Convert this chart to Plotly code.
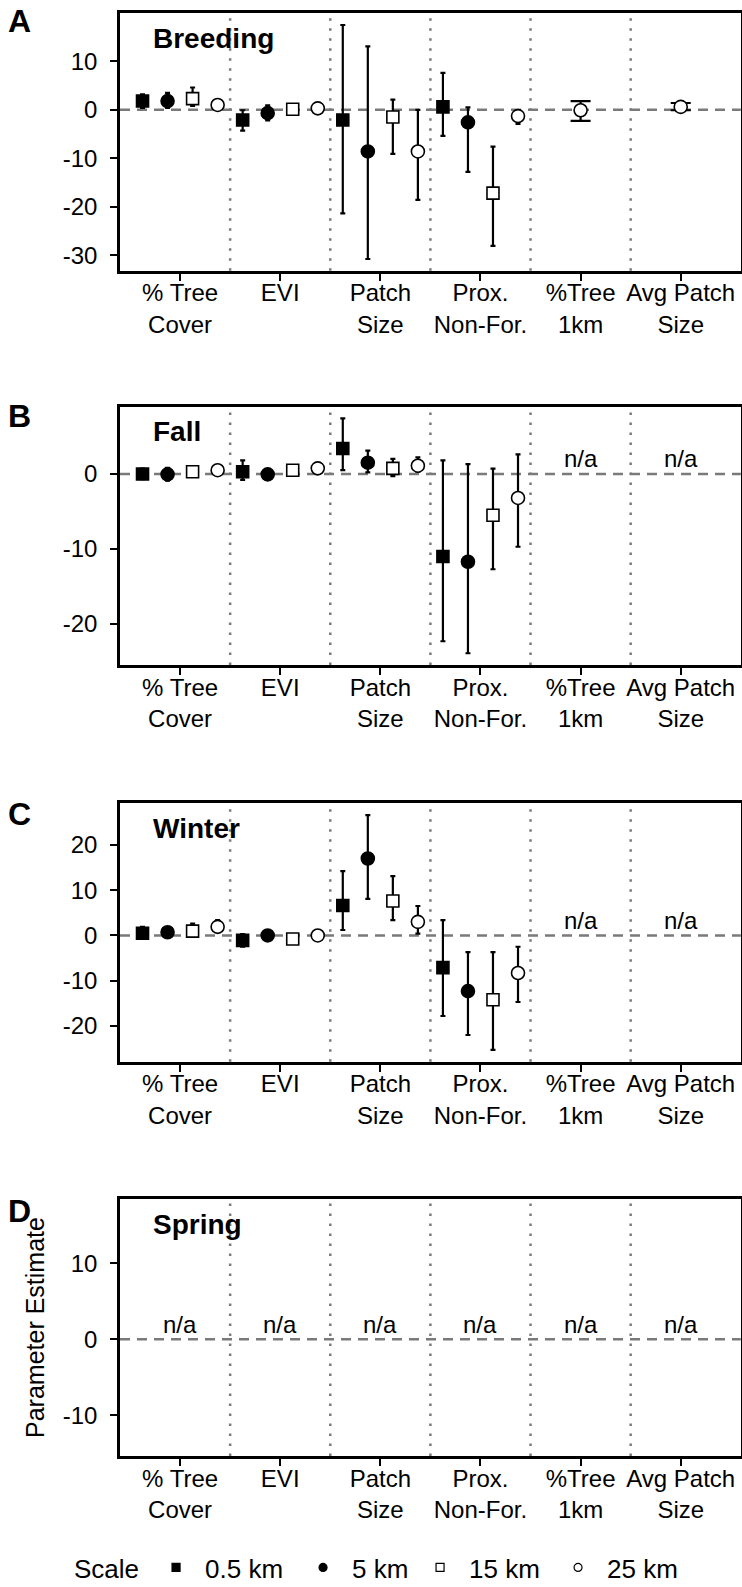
import plotly.graph_objects as go

W, H = 742, 1587
FONT = "Liberation Sans, Arial, Helvetica, sans-serif"

categories = ["% Tree<br>Cover", "EVI", "Patch<br>Size", "Prox.<br>Non-For.",
              "%Tree<br>1km", "Avg Patch<br>Size"]
scales = ["0.5 km", "5 km", "15 km", "25 km"]
seasons = ["Breeding", "Fall", "Winter", "Spring"]
panel_letters = ["A", "B", "C", "D"]

# Parameter estimates and interval bounds; rows follow `scales`, columns follow `categories`.
breeding_est = [
    [1.8, -2.1, -2.1, 0.6, None, None],
    [1.8, -0.7, -8.6, -2.6, None, None],
    [2.3, 0.1, -1.5, -17.2, None, None],
    [1.0, 0.3, -8.6, -1.3, -0.1, 0.6],
]
breeding_lo = [
    [0.4, -4.3, -21.4, -5.4, None, None],
    [0.4, -2.2, -30.8, -12.8, None, None],
    [0.8, -0.3, -9.1, -28.1, None, None],
    [0.3, -0.2, -18.6, -2.9, -2.3, -0.1],
]
breeding_hi = [
    [3.2, -0.1, 17.5, 7.6, None, None],
    [3.5, 0.9, 13.1, 0.5, None, None],
    [4.6, 0.5, 2.1, -7.6, None, None],
    [1.7, 0.8, 0.0, -0.2, 1.8, 1.4],
]

fall_est = [
    [0.0, 0.3, 3.4, -11.0, None, None],
    [-0.05, -0.05, 1.5, -11.7, None, None],
    [0.3, 0.5, 0.75, -5.5, None, None],
    [0.5, 0.75, 1.1, -3.2, None, None],
]
fall_lo = [
    [-0.7, -0.8, 0.5, -22.3, None, None],
    [-0.9, -0.7, 0.2, -23.9, None, None],
    [-0.3, 0.2, -0.3, -12.7, None, None],
    [-0.1, 0.4, 0.3, -9.7, None, None],
]
fall_hi = [
    [0.7, 1.8, 7.4, 1.8, None, None],
    [0.8, 0.4, 3.1, 1.3, None, None],
    [1.0, 0.8, 2.0, 0.7, None, None],
    [1.0, 1.1, 2.2, 2.6, None, None],
]

winter_est = [
    [0.5, -1.1, 6.6, -7.1, None, None],
    [0.7, 0.0, 17.0, -12.3, None, None],
    [0.95, -0.8, 7.6, -14.2, None, None],
    [1.9, 0.0, 3.0, -8.3, None, None],
]
winter_lo = [
    [-0.7, -2.5, 1.2, -17.8, None, None],
    [-0.15, -0.3, 8.1, -22.0, None, None],
    [-0.3, -1.1, 3.4, -25.3, None, None],
    [0.8, -0.3, 0.4, -14.7, None, None],
]
winter_hi = [
    [1.9, 0.3, 14.2, 3.4, None, None],
    [1.75, 0.3, 26.6, -3.7, None, None],
    [2.6, -0.5, 13.1, -3.7, None, None],
    [3.4, 0.3, 6.5, -2.5, None, None],
]

spring_est = [[None] * 6 for _ in scales]
spring_lo = [[None] * 6 for _ in scales]
spring_hi = [[None] * 6 for _ in scales]

season_data = [
    (breeding_est, breeding_lo, breeding_hi),
    (fall_est, fall_lo, fall_hi),
    (winter_est, winter_lo, winter_hi),
    (spring_est, spring_lo, spring_hi),
]
spring_range = [-15.35, 18.4]

# marker style per scale
symbols = ["square", "circle", "square", "circle"]
fills = ["black", "black", "white", "white"]
sizes = [12, 13, 12, 13]
dodge = [-0.375, -0.125, 0.125, 0.375]

# pixel extents of the four panels
panel_px = [(13.3, 270.7), (406.7, 665.0), (803.3, 1061.7), (1199.3, 1456.0)]
x_left_px, x_right_px = 120, 740.8

fig = go.Figure()
shapes, annotations = [], []
GRAY = "#7a7a7a"
TICK = 24

for p, season in enumerate(seasons):
    est, lo, hi = season_data[p]
    xa = "x" if p == 0 else f"x{p + 1}"
    ya = "y" if p == 0 else f"y{p + 1}"
    n_present = [sum(est[k][c] is not None for k in range(len(scales)))
                 for c in range(len(categories))]

    for k, sc in enumerate(scales):
        groups = {"dodged": ([], [], [], []), "single": ([], [], [], [])}
        for c in range(len(categories)):
            v = est[k][c]
            if v is None:
                continue
            key = "single" if n_present[c] == 1 else "dodged"
            xs, ys, up, dn = groups[key]
            xs.append(c + 1 + (0 if key == "single" else dodge[k]))
            ys.append(v)
            up.append(hi[k][c] - v)
            dn.append(v - lo[k][c])
        for key, (xs, ys, up, dn) in groups.items():
            if not xs:
                continue
            fig.add_trace(go.Scatter(
                x=xs, y=ys, xaxis=xa, yaxis=ya, mode="markers",
                showlegend=False, name=sc,
                marker=dict(symbol=symbols[k], color=fills[k], size=sizes[k],
                            line=dict(color="black", width=1.6)),
                error_y=dict(type="data", symmetric=False, array=up, arrayminus=dn,
                             color="black", thickness=2.2,
                             width=10 if key == "single" else 2.5),
            ))

    # y range with 5% padding around the interval bounds
    vals = [v for arr in (lo, hi) for row in arr for v in row if v is not None]
    if vals:
        lo_v, hi_v = min(vals), max(vals)
        pad = 0.05 * (hi_v - lo_v)
        yrange = [lo_v - pad, hi_v + pad]
    else:
        yrange = spring_range
    ytick_vals = [v for v in range(-100, 101, 10) if yrange[0] <= v <= yrange[1]]
    ytick_text = [str(v) for v in ytick_vals]

    top, bot = panel_px[p]
    axis_common = dict(showline=True, linewidth=2.6, linecolor="black", mirror=True,
                       ticks="outside", ticklen=7, tickwidth=2, tickcolor="black",
                       showgrid=False, zeroline=False,
                       tickfont=dict(size=TICK, color="black", family=FONT))
    fig.update_layout(**{
        ("xaxis" if p == 0 else f"xaxis{p + 1}"): dict(
            domain=[x_left_px / W, x_right_px / W], range=[0.4, 6.6], anchor=ya,
            tickmode="array", tickvals=list(range(1, len(categories) + 1)),
            ticktext=categories, ticklabelstandoff=-8, **axis_common),
        ("yaxis" if p == 0 else f"yaxis{p + 1}"): dict(
            domain=[1 - bot / H, 1 - top / H], range=yrange, anchor=xa,
            tickmode="array", tickvals=ytick_vals, ticktext=ytick_text,
            ticklabelstandoff=8, **axis_common),
    })

    # dashed zero reference line
    shapes.append(dict(type="line", xref=f"{xa} domain", yref=ya, x0=0, x1=1, y0=0, y1=0,
                       line=dict(color=GRAY, width=2.6, dash="10px,7px"), layer="below"))
    # dotted separators between covariates
    for c in range(1, len(categories)):
        shapes.append(dict(type="line", xref=xa, yref=f"{ya} domain",
                           x0=c + 0.5, x1=c + 0.5, y0=0, y1=1,
                           line=dict(color=GRAY, width=2.5, dash="2.5px,7.5px"), layer="below"))

    # covariates without estimates
    for c in range(len(categories)):
        if n_present[c] == 0:
            annotations.append(dict(text="n/a", x=c + 1, y=0, xref=xa, yref=ya,
                                    yshift=15, showarrow=False, yanchor="middle",
                                    font=dict(size=TICK, color="black", family=FONT)))

    # season title and panel letter
    annotations.append(dict(text=f"<b>{season}</b>", xref=f"{xa} domain", yref=f"{ya} domain",
                            x=(151 - x_left_px) / (x_right_px - x_left_px), y=1, yshift=-25,
                            xanchor="left", yanchor="middle", showarrow=False,
                            font=dict(size=28, color="black", family=FONT)))
    letter_y = [21, 416, 814, 1211][p]
    annotations.append(dict(text=f"<b>{panel_letters[p]}</b>", xref="paper", yref="paper",
                            x=19 / W, y=1 - letter_y / H, xanchor="center", yanchor="middle",
                            showarrow=False, font=dict(size=32, color="black", family=FONT)))

annotations.append(dict(text="Parameter Estimate", xref="paper", yref="paper",
                        x=35 / W, y=1 - 1328 / H, textangle=-90, showarrow=False,
                        xanchor="center", yanchor="middle",
                        font=dict(size=25, color="black", family=FONT)))

# legend entries
legend_widths = [84, 54, 75, 70]
for k, sc in enumerate(scales):
    fig.add_trace(go.Scatter(
        x=[None], y=[None], mode="markers", name=sc, showlegend=True,
        legendwidth=legend_widths[k],
        marker=dict(symbol=symbols[k], color=fills[k], size=8,
                    line=dict(color="black", width=1.2)),
    ))

fig.update_layout(
    width=W, height=H, margin=dict(l=0, r=0, t=0, b=0, autoexpand=False),
    paper_bgcolor="white", plot_bgcolor="white",
    font=dict(family=FONT, color="black"),
    shapes=shapes, annotations=annotations,
    legend=dict(orientation="h", x=72 / W, y=-4 / H, xanchor="left", yanchor="bottom",
                title=dict(text="Scale", side="left", font=dict(size=26)),
                font=dict(size=26, color="black", family=FONT),
                itemwidth=48, itemsizing="trace", bgcolor="rgba(0,0,0,0)",
                borderwidth=0, tracegroupgap=0),
)

fig.write_html("out.html")
